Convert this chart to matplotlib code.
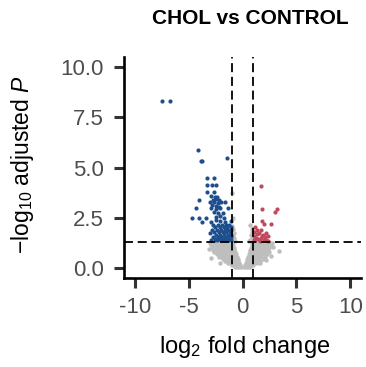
import matplotlib
matplotlib.use("Agg")
import matplotlib.pyplot as plt

plt.rcParams['font.family'] = ['Liberation Sans', 'DejaVu Sans']
plt.rcParams['mathtext.fontset'] = 'custom'
plt.rcParams['mathtext.rm'] = 'Liberation Sans'
plt.rcParams['mathtext.it'] = 'Liberation Sans:italic'
plt.rcParams['mathtext.bf'] = 'Liberation Sans:bold'

# Significantly down-regulated genes (log2 FC, -log10 adjusted P)
down_x = [-7.45, -6.7, -4.1, -3.87, -3.72, -1.4, -3.3, -2.62, -3.3, -2.8, -2.45,
          -3.3, -2.65, -2.96, -2.55, -2.35, -4.05, -2.75, -2.45, -2.15,
          -3.0, -2.6, -2.3, -2.0, -1.65, -2.85, -2.5, -2.2,
          -4.35, -2.9, -2.44, -2.13, -1.3, -2.6, -2.3, -1.85,
          -4.7, -4.05, -3.36, -2.44, -1.73, -2.1,
          -3.8, -2.9, -2.1, -1.6, -1.1, -2.5,
          -2.7, -2.3, -1.9, -1.5, -1.25,
          -2.55, -2.1, -1.75, -1.4, -1.1,
          -2.8, -2.35, -2.0, -1.6, -1.3, -1.05,
          -2.6, -2.2, -1.85, -1.5, -1.2, -3.05,
          -2.45, -2.05, -1.7, -1.35, -1.1,
          -2.75, -2.3, -1.95, -1.6, -1.25, -1.05,
          -2.55, -2.15, -1.8, -1.45, -1.15,
          -2.9, -2.4, -2.0, -1.65, -1.3, -1.05]
down_y = [8.31, 8.31, 5.89, 5.32, 5.32, 5.47, 4.49, 4.49, 4.13, 4.13, 4.13,
          3.8, 3.8, 3.58, 3.55, 3.52, 3.38, 3.4, 3.42, 3.36,
          3.27, 3.26, 3.25, 3.28, 3.27, 3.12, 3.1, 3.05,
          2.97, 2.97, 2.95, 2.98, 2.97, 2.78, 2.74, 2.72,
          2.5, 2.5, 2.5, 2.52, 2.5, 2.6,
          2.3, 2.3, 2.32, 2.3, 2.32, 2.38,
          2.15, 2.15, 2.15, 2.15, 2.15,
          2.02, 2.02, 2.02, 2.02, 2.02,
          1.9, 1.9, 1.9, 1.9, 1.9, 1.9,
          1.78, 1.78, 1.78, 1.78, 1.78, 1.75,
          1.66, 1.66, 1.66, 1.66, 1.66,
          1.55, 1.55, 1.55, 1.55, 1.55, 1.55,
          1.45, 1.45, 1.45, 1.45, 1.45,
          1.37, 1.37, 1.37, 1.37, 1.37, 1.37]

# Significantly up-regulated genes
up_x = [1.68, 1.82, 3.06, 3.21, 1.82, 1.97, 2.65, 1.17, 1.73, 2.19,
        1.1, 1.3, 1.5, 1.9, 2.1, 2.35, 1.25, 1.45, 1.7, 1.95, 2.2,
        1.1, 1.6, 2.4, 1.35, 1.05, 1.8]
up_y = [4.07, 2.92, 2.77, 2.93, 2.32, 2.17, 2.2, 2.05, 1.89, 1.76,
        1.8, 1.7, 1.75, 1.65, 1.55, 1.6, 1.5, 1.45, 1.5, 1.4, 1.4,
        1.38, 1.35, 1.35, 1.9, 1.6, 1.6]

# Genes that do not pass both cut-offs, grouped by -log10 adjusted P level
ns_levels = [0.03, 0.13, 0.24, 0.35, 0.46, 0.57, 0.68, 0.79, 0.90, 1.01, 1.12, 1.22, 1.29]
ns_level_x = [
    [-0.7, -0.5, -0.3, -0.1, 0.1, 0.3, 0.5, 0.65],
    [-1.0, -0.8, -0.6, -0.4, -0.22, 0.22, 0.4, 0.6, 0.8, 1.0],
    [-1.3, -1.1, -0.9, -0.7, -0.5, -0.32, 0.32, 0.5, 0.7, 0.9, 1.1, 1.35, 1.6],
    [-1.6, -1.4, -1.2, -1.0, -0.8, -0.6, -0.4, 0.4, 0.6, 0.8, 1.0, 1.2, 1.4, 1.65],
    [-1.85, -1.65, -1.45, -1.25, -1.05, -0.85, -0.62, -0.46, 0.46, 0.62, 0.82, 1.02,
     1.22, 1.45, 1.7, 1.9],
    [-2.15, -1.9, -1.7, -1.5, -1.3, -1.1, -0.9, -0.7, -0.53, 0.53, 0.7, 0.9, 1.1, 1.3,
     1.5, 1.75, 2.05],
    [-2.4, -2.15, -1.95, -1.75, -1.55, -1.35, -1.15, -0.95, -0.78, -0.6, 0.6, 0.78,
     0.95, 1.15, 1.35, 1.55, 1.8, 2.1, 2.3],
    [-2.6, -2.35, -2.1, -1.9, -1.7, -1.5, -1.3, -1.1, -0.9, -0.68, 0.68, 0.9, 1.1,
     1.3, 1.5, 1.7, 1.95, 2.2, 2.45],
    [-2.75, -2.5, -2.25, -2.05, -1.85, -1.65, -1.45, -1.25, -1.05, -0.9, -0.75, 0.74,
     0.92, 1.1, 1.3, 1.5, 1.7, 1.9, 2.15, 2.4],
    [-2.85, -2.6, -2.38, -2.15, -1.95, -1.75, -1.55, -1.35, -1.15, -0.95, -0.8, 0.8,
     0.98, 1.15, 1.35, 1.55, 1.75, 1.95, 2.2, 2.5],
    [-2.95, -2.7, -2.45, -2.25, -2.05, -1.85, -1.65, -1.45, -1.25, -1.05, -0.88, 0.86,
     1.02, 1.2, 1.4, 1.6, 1.8, 2.0, 2.25, 2.6],
    [-3.0, -2.75, -2.55, -2.3, -2.1, -1.9, -1.7, -1.5, -1.3, -1.1, -0.93, 0.9, 1.05,
     1.25, 1.45, 1.65, 1.85, 2.05, 2.3, 2.7],
    [-2.85, -2.6, -2.4, -2.2, -2.0, -1.8, -1.6, -1.4, -1.2, -1.0, 1.0, 1.15, 1.35,
     1.55, 1.75, 1.95, 2.2, 2.45],
]
# Scattered non-significant genes outside the main cloud
ns_extra_x = [-2.96, -3.1, 3.36, 2.8, 2.19, 2.6, -2.1,
              -0.95, -0.9, 0.65, -0.85, -0.8, -0.9, -0.75, -0.9, -0.7, 0.7,
              0.85, 0.75, 0.9, 0.85, 0.95, -0.95, 0.6]
ns_extra_y = [0.48, 0.95, 0.85, 1.04, 0.4, 0.6, 0.24,
              3.75, 2.5, 2.14, 1.95, 1.75, 1.6, 1.5, 1.4, 1.36, 1.4,
              1.5, 1.65, 1.8, 1.95, 1.35, 2.1, 1.35]

fc_cutoff = 1.0
p_cutoff = 1.30103  # -log10(0.05)

x_ticks = [-10, -5, 0, 5, 10]
y_ticks = [0.0, 2.5, 5.0, 7.5, 10.0]

ns_x = [x for row in ns_level_x for x in row] + ns_extra_x
ns_y = [lvl for lvl, row in zip(ns_levels, ns_level_x) for _ in row] + ns_extra_y

fig = plt.figure(figsize=(3.66, 3.67), dpi=100)
ax = fig.add_axes([124 / 366, 1 - 278 / 367, (361 - 124) / 366, (278 - 57) / 367])

ax.scatter(ns_x, ns_y, s=10, color='#BEBEBE', linewidths=0, zorder=2)
ax.scatter(down_x, down_y, s=9, color='#1D4F8F', linewidths=0, zorder=3)
ax.scatter(up_x, up_y, s=9, color='#C04A5C', linewidths=0, zorder=3)

dash = (0, (5, 2.6))
ax.axvline(-fc_cutoff, color='black', lw=1.3, linestyle=dash, zorder=4)
ax.axvline(fc_cutoff, color='black', lw=1.3, linestyle=dash, zorder=4)
ax.axhline(p_cutoff, color='black', lw=1.3, linestyle=dash, zorder=4)

ax.set_xlim(-11, 11)
ax.set_ylim(-0.5, 10.5)
ax.set_xticks(x_ticks)
ax.set_xticklabels(['-10', '-5', '0', '5', '10'])
ax.set_yticks(y_ticks)
ax.set_yticklabels([f'{v:.1f}' for v in y_ticks])

for side in ['top', 'right']:
    ax.spines[side].set_visible(False)
for side in ['left', 'bottom']:
    ax.spines[side].set_linewidth(1.9)
    ax.spines[side].set_color('black')

ax.tick_params(axis='both', length=7.5, width=2.2, color='#333333',
               labelsize=16, labelcolor='#4D4D4D')
ax.tick_params(axis='x', pad=6)
ax.tick_params(axis='y', pad=7)

fig.text(250 / 366, 1 - 18 / 367, 'CHOL vs CONTROL', ha='center', va='center',
         fontsize=15, fontweight='bold')
fig.text(245 / 366, 1 - 347 / 367, r'$\log_{2}\,$fold change', ha='center',
         va='center', fontsize=17)
fig.text(23 / 366, 1 - 165 / 367, r'$-\log_{10}\,$adjusted $\mathit{P}$', ha='center',
         va='center', rotation=90, fontsize=16.5)

fig.savefig('out.png', dpi=100)
